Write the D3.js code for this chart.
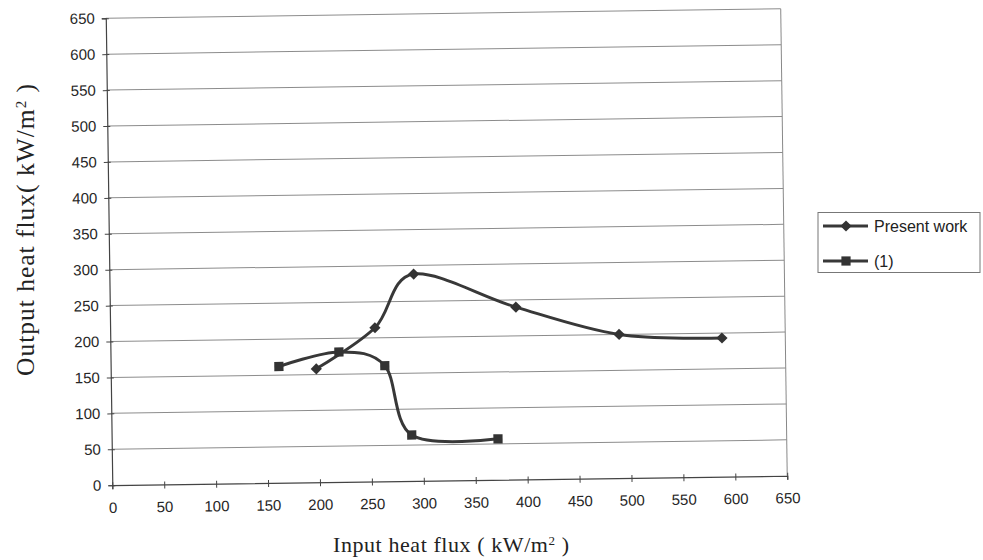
<!DOCTYPE html>
<html><head><meta charset="utf-8">
<script src="https://cdn.jsdelivr.net/npm/d3@7"></script>
<style>body{margin:0;background:#fff}</style>
</head><body>
<svg id="c" width="983" height="560"></svg>
<script>
// ---- data ----
const xTicks = [0,50,100,150,200,250,300,350,400,450,500,550,600,650];
const yTicks = [0,50,100,150,200,250,300,350,400,450,500,550,600,650];
const presentX = [198, 255, 293, 391, 490, 589];
const presentY = [158, 214, 288, 240, 200, 193];
const refX = [162, 220, 264, 289, 372];
const refY = [162, 181, 161, 64, 57];
const seriesNames = ["Present work", "(1)"];

const svg = d3.select("#c");
svg.append("rect").attr("width",983).attr("height",560).attr("fill","#fff");

const x = d3.scaleLinear().domain([0,650]).range([109,784]);
const y = d3.scaleLinear().domain([0,650]).range([480.5,13.5]);

const g = svg.append("g").attr("transform","rotate(-0.8,446.5,247)");

// gridlines
g.append("g").selectAll("line").data(yTicks.filter(d=>d>0)).join("line")
  .attr("x1",x(0)).attr("x2",x(650)).attr("y1",d=>y(d)).attr("y2",d=>y(d))
  .attr("stroke","#8c8c8c").attr("stroke-width",1);
// right border
g.append("line").attr("x1",x(650)).attr("x2",x(650)).attr("y1",y(0)).attr("y2",y(650))
  .attr("stroke","#888").attr("stroke-width",1);

const font = "'Liberation Sans', Arial, sans-serif";
// axes
const ya = g.append("g").attr("transform",`translate(${x(0)},0)`)
  .call(d3.axisLeft(y).tickValues(yTicks).tickSize(4).tickPadding(7));
ya.select(".domain").attr("stroke","#444").attr("stroke-width",1.2);
ya.selectAll(".tick line").attr("x1",3).attr("stroke","#444");
ya.selectAll("text").attr("font-family",font).attr("font-size",15).attr("fill","#262626");

const xa = g.append("g").attr("transform",`translate(0,${y(0)})`)
  .call(d3.axisBottom(x).tickValues(xTicks).tickSize(4).tickPadding(13));
xa.select(".domain").attr("stroke","#444").attr("stroke-width",1.2);
xa.selectAll(".tick line").attr("y1",-3).attr("stroke","#444");
xa.selectAll("text").attr("font-family",font).attr("font-size",15).attr("fill","#262626");

const line = d3.line().x(d=>x(d[0])).y(d=>y(d[1])).curve(d3.curveCardinal.tension(0));
const pres = presentX.map((v,i)=>[v,presentY[i]]);
const ref = refX.map((v,i)=>[v,refY[i]]);
const col = "#383838";

g.append("path").datum(ref).attr("d",line).attr("fill","none").attr("stroke",col).attr("stroke-width",3);
g.append("path").datum(pres).attr("d",line).attr("fill","none").attr("stroke",col).attr("stroke-width",3);

const diamond = d3.symbol().type(d3.symbolDiamond2).size(80);
const square = d3.symbol().type(d3.symbolSquare).size(85);
g.append("g").selectAll("path").data(ref).join("path")
  .attr("d",square).attr("transform",d=>`translate(${x(d[0])},${y(d[1])})`).attr("fill","#333");
g.append("g").selectAll("path").data(pres).join("path")
  .attr("d",diamond).attr("transform",d=>`translate(${x(d[0])},${y(d[1])})`).attr("fill","#333");

// axis titles
const serif = "'Liberation Serif', 'Times New Roman', serif";
const xt = svg.append("text").attr("x",451).attr("y",552).attr("text-anchor","middle")
  .attr("font-family",serif).attr("font-size",22).attr("fill","#222")
  .attr("textLength",236).attr("lengthAdjust","spacing");
xt.append("tspan").text("Input heat flux ( kW/m");
xt.append("tspan").attr("baseline-shift","super").attr("font-size",13).text("2");
xt.append("tspan").text(" )");

const yt = svg.append("text").attr("transform","translate(34,230) rotate(-90)").attr("text-anchor","middle")
  .attr("font-family",serif).attr("font-size",25.5).attr("fill","#222")
  .attr("textLength",292).attr("lengthAdjust","spacing");
yt.append("tspan").text("Output heat flux( kW/m");
yt.append("tspan").attr("baseline-shift","super").attr("font-size",15).text("2");
yt.append("tspan").text(" )");

// legend
const lg = svg.append("g");
lg.append("rect").attr("x",818).attr("y",212.5).attr("width",162).attr("height",60)
  .attr("fill","none").attr("stroke","#777").attr("stroke-width",1);
const rows = [226, 261];
seriesNames.forEach((n,i)=>{
  lg.append("line").attr("x1",823).attr("x2",868).attr("y1",rows[i]).attr("y2",rows[i])
    .attr("stroke",col).attr("stroke-width",3);
  lg.append("path").attr("d", i===0 ? diamond : square)
    .attr("transform",`translate(846,${rows[i]})`).attr("fill","#333");
  lg.append("text").attr("x",874).attr("y",rows[i]).attr("dy","0.35em")
    .attr("font-family",font).attr("font-size",16).attr("fill","#222").text(n);
});
</script>
</body></html>
